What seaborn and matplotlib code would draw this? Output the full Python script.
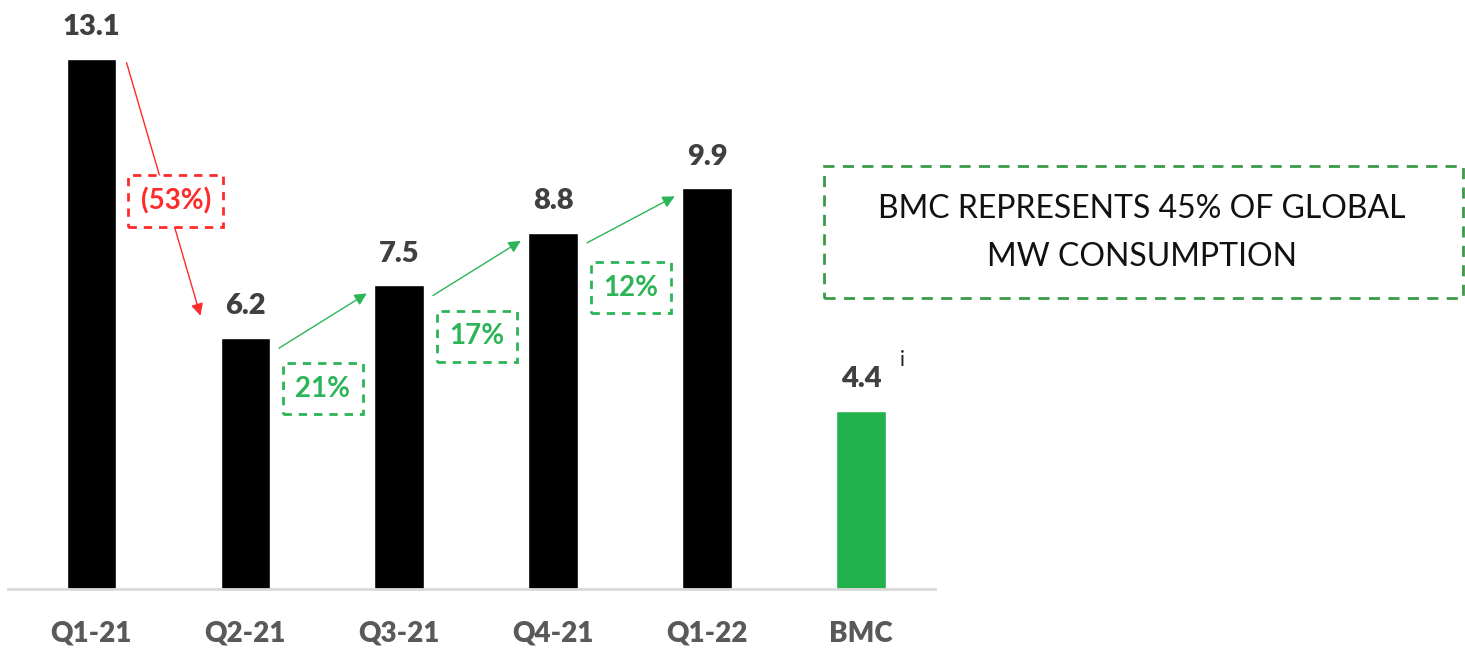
import matplotlib
matplotlib.use('Agg')
import matplotlib.pyplot as plt
import seaborn as sns
import pandas as pd

# donnees
quarters = ['Q1-21', 'Q2-21', 'Q3-21', 'Q4-21', 'Q1-22', 'BMC']
mw_values = [13.1, 6.2, 7.5, 8.8, 9.9, 4.4]
changes = ['(53%)', '21%', '17%', '12%']
note_text = 'BMC REPRESENTS 45% OF GLOBAL\nMW CONSUMPTION'

bar_colors = ['#000000'] * 5 + ['#22b14c']
red = '#ff2a2a'
green = '#2cb457'

df = pd.DataFrame({'quarter': quarters, 'mw': mw_values})

sns.set_style('white')
plt.rcParams['font.family'] = ['Lato', 'DejaVu Sans']

fig = plt.figure(figsize=(14.65, 6.54), dpi=100)
ax = fig.add_axes([8 / 1465, 65 / 654, 927 / 1465, 587 / 654])

sns.barplot(data=df, x='quarter', y='mw', hue='quarter', palette=bar_colors,
            width=0.32, legend=False, ax=ax, saturation=1)

ax.set_xlim(-0.54, 5.48)
ax.set_ylim(0, 14.5)
ax.set_xlabel('')
ax.set_ylabel('')
ax.set_yticks([])
for s in ['top', 'right', 'left']:
    ax.spines[s].set_visible(False)
ax.spines['bottom'].set_color('#d9d9d9')
ax.spines['bottom'].set_linewidth(2)
ax.tick_params(axis='x', length=0, pad=23)
for t in ax.get_xticklabels():
    t.set_fontsize(20)
    t.set_fontweight('heavy')
    t.set_color('#595959')

# valeurs au dessus des barres
for i, v in enumerate(mw_values):
    ax.text(i, v + 0.78, f'{v:.1f}', ha='center', va='center',
            fontsize=21, fontweight='heavy', color='#404040')

ax.text(5.27, mw_values[5] + 1.25, 'i', ha='center', va='center',
        fontsize=15, color='#222222')

# fleches de variation
for i, lab in enumerate(changes):
    v0, v1 = mw_values[i], mw_values[i + 1]
    if v1 < v0:
        col = red
        start = (i + 0.23, v0 - 0.1)
        end = (i + 0.71, v1 + 0.55)
        box = ((start[0] + end[0]) / 2 + 0.08, (start[1] + end[1]) / 2 - 0.3)
    else:
        col = green
        start = (i + 0.22, v0 - 0.25)
        end = (i + 0.79, v1 - 0.2)
        box = ((start[0] + end[0]) / 2, (start[1] + end[1]) / 2 - 1.68)
    ax.annotate('', xy=end, xytext=start,
                arrowprops=dict(arrowstyle='-|>', color=col, lw=1,
                                mutation_scale=18, shrinkA=0, shrinkB=0),
                zorder=3)
    ax.text(box[0], box[1], lab, ha='center', va='center', fontsize=20,
            fontweight='bold', color=col, zorder=4,
            bbox=dict(boxstyle='square,pad=0.45', facecolor='white',
                      edgecolor=col, linestyle=(0, (3, 2.5)), linewidth=2))

# encadre texte
fig.patches.append(plt.Rectangle((824 / 1465, 1 - 298 / 654), 639 / 1465, 132 / 654,
                                 transform=fig.transFigure, fill=False,
                                 edgecolor='#3a9a45', linewidth=2,
                                 linestyle=(0, (4, 3))))
fig.text(1142 / 1465, 1 - 233 / 654, note_text, ha='center', va='center',
         fontsize=23, fontweight='normal', color='#111111', linespacing=1.75)

plt.savefig('out.png', dpi=100)
